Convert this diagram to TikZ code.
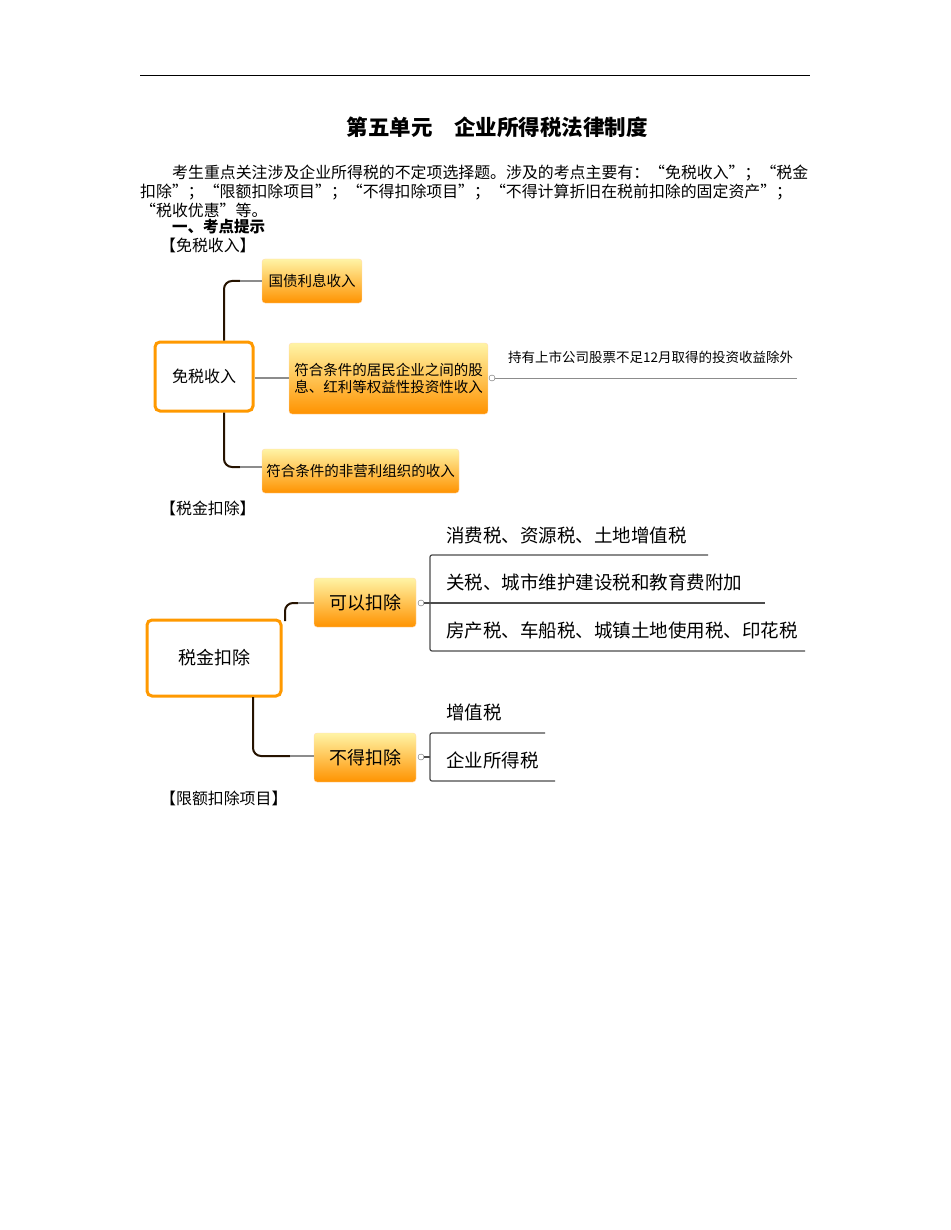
\documentclass[tikz,border=0pt]{standalone}
\usepackage{fontspec}
\newfontfamily\cjk{Noto Sans CJK SC}
\begin{document}
\begin{tikzpicture}[x=1pt,y=-1pt,
  ob/.style={rounded corners=3pt,top color=orange!25!yellow!35,bottom color=orange!85!yellow,draw=orange!30,line width=0.4pt,font=\cjk\fontsize{14.5}{17}\selectfont,inner sep=0pt},
  root/.style={rounded corners=5pt,draw=orange!80!yellow,line width=3pt,fill=white,font=\cjk\fontsize{16}{18}\selectfont},
  dk/.style={line width=2pt,color=black!85!orange,rounded corners=8pt},
  gr/.style={line width=1.4pt,color=black!45},
  lt/.style={anchor=west,font=\cjk\fontsize{18.5}{20}\selectfont,inner sep=0pt},
  tx/.style={anchor=west,font=\cjk\fontsize{15.9}{17}\selectfont,inner sep=0pt},
  cir/.style={circle,draw=black!60,fill=white,inner sep=0pt,minimum size=6pt}]
\useasboundingbox (0,0) rectangle (950,1230);
\draw[line width=0.8pt] (140,75) -- (810,75);
\node[font=\cjk\bfseries\fontsize{21.5}{23}\selectfont] (title) at (497,127) {第五单元\quad 企业所得税法律制度};
\node[tx] (p1) at (172,173) {考生重点关注涉及企业所得税的不定项选择题。涉及的考点主要有：“免税收入”；“税金};
\node[tx] (p2) at (140,192) {扣除”；“限额扣除项目”；“不得扣除项目”；“不得计算折旧在税前扣除的固定资产”；};
\node[tx] (p3) at (140,210) {“税收优惠”等。};
\node[tx,font=\cjk\bfseries\fontsize{15.5}{17}\selectfont] (h1) at (172,227) {一、考点提示};
\node[tx] (s1) at (160,245) {【免税收入】};
% diagram 1
\node[root,minimum width=98pt,minimum height=69pt] (r1) at (204,376.5) {免税收入};
\node[ob,minimum width=100pt,minimum height=44pt] (a1) at (312,281) {国债利息收入};
\node[ob,minimum width=199pt,minimum height=71pt,align=left] (a2) at (388.5,378.5) {符合条件的居民企业之间的股\\息、红利等权益性投资性收入};
\node[ob,minimum width=197pt,minimum height=44pt] (a3) at (360.5,471) {符合条件的非营利组织的收入};
\draw[dk] (r1.north -| 224,0) -- (224,281) -- (240,281);
\draw[gr] (240,281) -- (a1.west);
\draw[dk] (r1.south -| 224,0) -- (224,467) -- (240,467);
\draw[gr] (240,467) -- (a3.west |- 240,467);
\draw[gr] (r1.east |- 0,378) -- (a2.west |- 0,378);
\node[cir] (c1) at (492,378) {};
\coordinate (e1) at (797,378);
\draw[gr,line width=1pt] (c1) -- (e1);
\node[lt,font=\cjk\fontsize{13.5}{16}\selectfont] (t1) at (508,357) {持有上市公司股票不足12月取得的投资收益除外};
\node[tx] (s2) at (160,508) {【税金扣除】};
% diagram 2
\node[root,minimum width=134pt,minimum height=76pt,font=\cjk\fontsize{18}{20}\selectfont] (r2) at (214,658) {税金扣除};
\node[ob,minimum width=102pt,minimum height=49pt,font=\cjk\fontsize{18}{20}\selectfont] (b1) at (365,602.5) {可以扣除};
\node[ob,minimum width=102pt,minimum height=49pt,font=\cjk\fontsize{18}{20}\selectfont] (b2) at (365,757.5) {不得扣除};
\draw[dk] (285,621) -- (285,603) -- (298,603);
\draw[gr] (298,603) -- (b1.west |- 0,603);
\draw[dk] (253,697) -- (253,756) -- (290,756);
\draw[gr] (290,756) -- (b2.west |- 0,756);
\node[cir] (c2) at (421,603) {};
\node[cir] (c3) at (421,757) {};
\draw[black!70,line width=1.2pt,rounded corners=2pt] (708,555) -- (430,555) -- (430,651) -- (805,651);
\draw[black!70,line width=1.2pt] (c2) -- (765,603);
\draw[black!70,line width=1.2pt,rounded corners=2pt] (545,733) -- (430,733) -- (430,781) -- (555,781);
\draw[black!70,line width=1.2pt] (c3) -- (430,757);
\node[lt] (u1) at (446,535) {消费税、资源税、土地增值税};
\node[lt] (u2) at (446,582) {关税、城市维护建设税和教育费附加};
\node[lt] (u3) at (446,630) {房产税、车船税、城镇土地使用税、印花税};
\node[lt] (v1) at (446,712) {增值税};
\node[lt] (v2) at (446,760) {企业所得税};
\node[tx] (s3) at (160,798) {【限额扣除项目】};
\end{tikzpicture}
\end{document}
